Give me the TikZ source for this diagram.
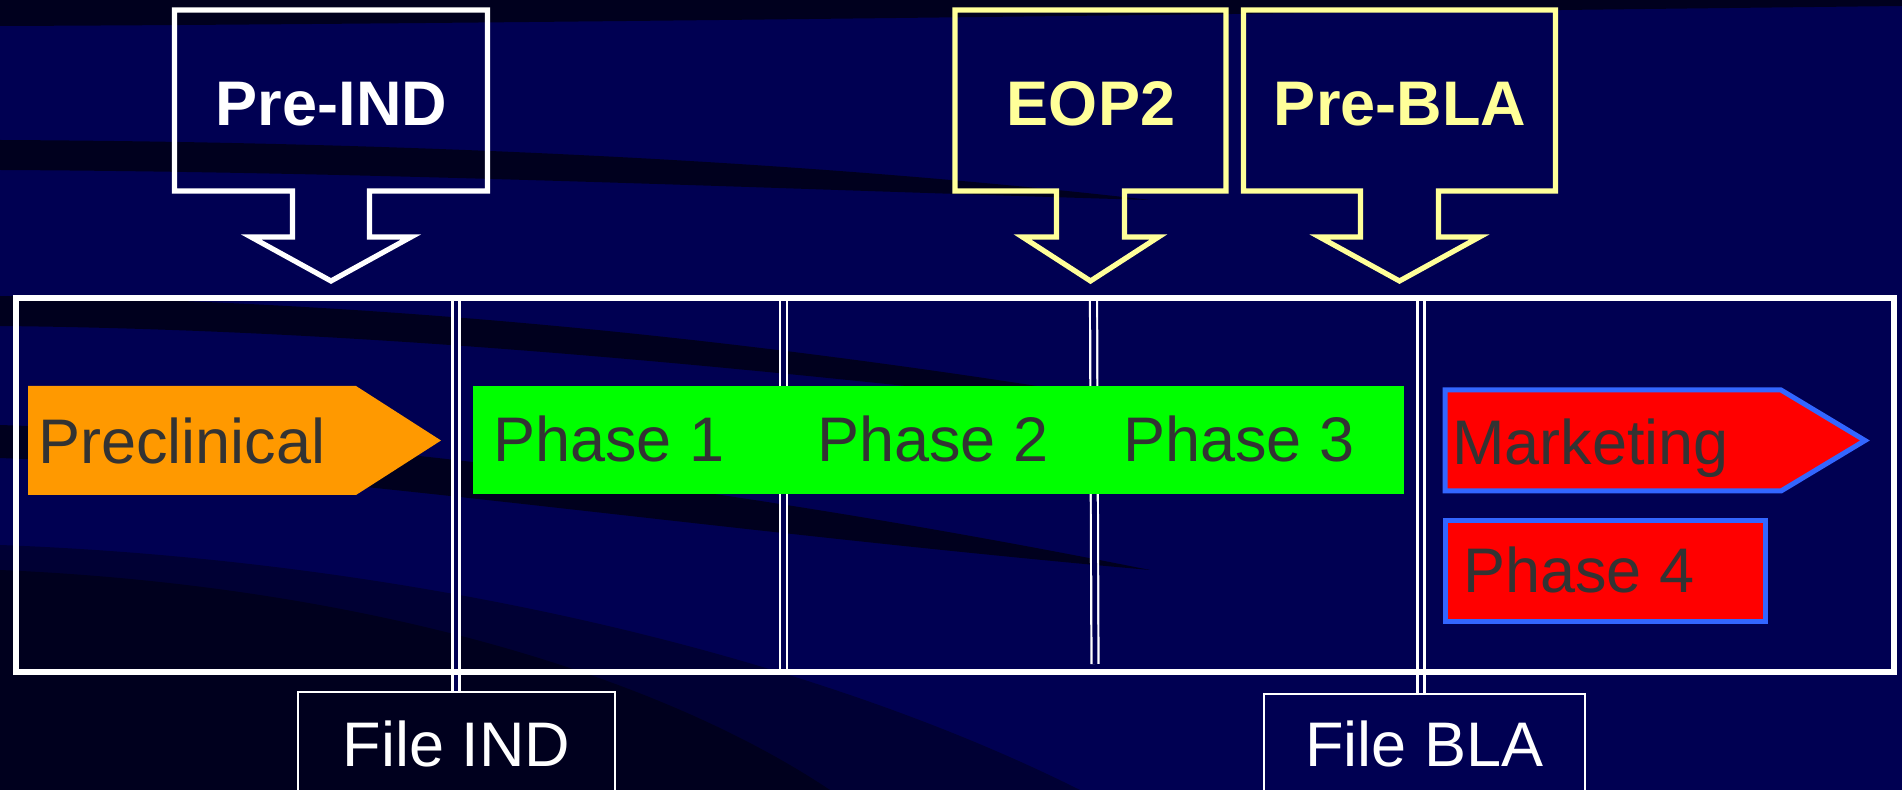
\documentclass[tikz,border=0pt]{standalone}
\usepackage{fontspec}
\setmainfont{Liberation Sans}
\usepackage{tikz}
\usetikzlibrary{calc}
\definecolor{navy}{RGB}{0,0,82}
\definecolor{midnavy}{RGB}{0,0,52}
\definecolor{deepnavy}{RGB}{0,0,30}
\definecolor{callyellow}{RGB}{255,255,153}
\definecolor{stageorange}{RGB}{255,153,0}
\definecolor{stagegreen}{RGB}{0,255,0}
\definecolor{stagered}{RGB}{255,0,0}
\definecolor{stageblue}{RGB}{51,102,255}
\definecolor{stagetext}{RGB}{51,51,51}
\newcommand{\stagefont}{\fontsize{31.5}{36}\selectfont}
\tikzstyle{stagelabel}=[font=\stagefont,text=stagetext,inner sep=0pt,anchor=base west]
\tikzstyle{calltext}=[font=\stagefont\bfseries,inner sep=0pt]
\tikzstyle{callout}=[line width=2.6pt,line join=miter]
\tikzstyle{filebox}=[draw=white,line width=1.1pt,font=\stagefont,text=white,anchor=north]
\tikzstyle{divider}=[draw=white,line width=1.1pt,double=navy,double distance=2.4pt]
\tikzstyle{frame}=[draw=white,line width=2.8pt,inner sep=0pt]

\begin{document}
\begin{tikzpicture}[x=0.5pt,y=-0.5pt]
\clip (0,0) rectangle (1902,790);
% background with dark swooshes
\fill[navy] (0,0) rectangle (1902,790);
\fill[deepnavy] (0,0) -- (1902,0) -- (1902,6) .. controls (1200,14) and (500,24) .. (0,26) -- cycle;
\fill[deepnavy] (0,140) .. controls (400,142) and (800,160) .. (1150,200) .. controls (800,190) and (400,172) .. (0,170) -- cycle;
\fill[deepnavy] (0,296) .. controls (400,302) and (800,340) .. (1300,430) .. controls (800,372) and (400,330) .. (0,326) -- cycle;
\fill[deepnavy] (0,425) .. controls (300,435) and (700,480) .. (1150,570) .. controls (700,530) and (300,470) .. (0,458) -- cycle;
\fill[midnavy] (0,545) .. controls (400,560) and (800,650) .. (1080,790) -- (0,790) -- cycle;
\fill[deepnavy] (0,570) .. controls (350,585) and (650,670) .. (830,790) -- (0,790) -- cycle;

% file boxes below the time line
\node[filebox,minimum width=158.5pt,minimum height=52pt] (fileind) at (456.5,691) {File IND};
\node[filebox,minimum width=160.5pt,minimum height=50pt] (filebla) at (1424.5,693) {File BLA};

% milestones on the time line
\coordinate (indtop) at (456,295.5);
\coordinate (eoptop) at (783.5,295.5);
\coordinate (endtop) at (1093.5,295.5);
\coordinate (endbot) at (1095,664);
\coordinate (blatop) at (1421,295.5);
\draw[divider] (indtop) -- (indtop |- fileind.north);
\draw[divider] (eoptop) -- ($(eoptop)+(0,373.5)$);
\draw[divider] (endtop) -- (endbot);
\draw[divider] (blatop) -- (blatop |- filebla.north);

\node[frame,minimum width=939pt,minimum height=186.75pt,anchor=north west] (timeline) at (13,295.5) {};

% stages
\fill[stageorange] (28,386) -- (356,386) -- (441,440.5) -- (356,495) -- (28,495) -- cycle;
\node[fill=stagegreen,minimum width=465.5pt,minimum height=54pt,inner sep=0pt,anchor=north west] (clinical) at (473,386) {};
\filldraw[draw=stageblue,line width=2.5pt,fill=stagered,line join=miter] (1445,390) -- (1781,390) -- (1865,440.5) -- (1781,491) -- (1445,491) -- cycle;
\node[draw=stageblue,line width=2.5pt,fill=stagered,minimum width=160pt,minimum height=50.5pt,inner sep=0pt] (phasefour) at (1605,571.5) {};

\node[stagelabel] (precl) at (38,464) {Preclinical};
\node[stagelabel] (phaseone) at (493,462) {Phase 1};
\node[stagelabel] (phasetwo) at (817,462) {Phase 2};
\node[stagelabel] (phasethree) at (1123,462) {Phase 3};
\node[stagelabel] (market) at (1452,465) {Marketing};
\node[stagelabel] (phasefourtxt) at (1463,593) {Phase 4};

% meeting callouts
\foreach \cx/\bw/\sw/\ww/\col in {331/156.5/38.5/80/white, 1090.5/135.5/34/68/callyellow, 1399.5/156/39/80/callyellow}
  \draw[callout,draw=\col] (\cx-\bw,10) -- (\cx+\bw,10) -- (\cx+\bw,191) -- (\cx+\sw,191) -- (\cx+\sw,237) -- (\cx+\ww,237) -- (\cx,281) -- (\cx-\ww,237) -- (\cx-\sw,237) -- (\cx-\sw,191) -- (\cx-\bw,191) -- cycle;
\node[calltext,text=white] (preind) at (331.5,104) {Pre-IND};
\node[calltext,text=callyellow] (eoptwo) at (1091,104) {EOP2};
\node[calltext,text=callyellow] (prebla) at (1400,104) {Pre-BLA};
\end{tikzpicture}
\end{document}
